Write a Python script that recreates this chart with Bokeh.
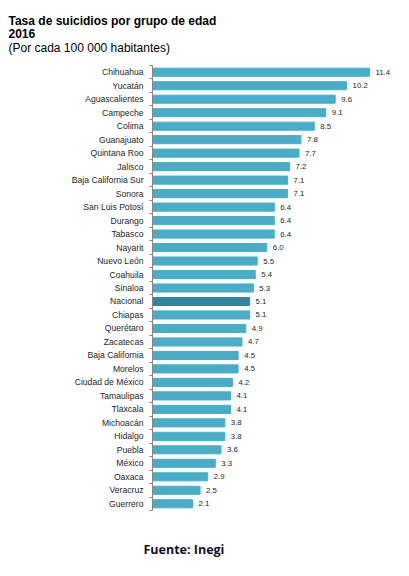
from bokeh.plotting import figure
from bokeh.models import ColumnDataSource, Range1d, FixedTicker, LabelSet, Label
from bokeh.core.properties import value
from bokeh.embed import file_html
from bokeh.resources import INLINE

estados = ["Chihuahua", "Yucatán", "Aguascalientes", "Campeche", "Colima", "Guanajuato",
           "Quintana Roo", "Jalisco", "Baja California Sur", "Sonora", "San Luis Potosí",
           "Durango", "Tabasco", "Nayarit", "Nuevo León", "Coahuila", "Sinaloa", "Nacional",
           "Chiapas", "Querétaro", "Zacatecas", "Baja California", "Morelos",
           "Ciudad de México", "Tamaulipas", "Tlaxcala", "Michoacán", "Hidalgo", "Puebla",
           "México", "Oaxaca", "Veracruz", "Guerrero"]
tasas = [11.4, 10.2, 9.6, 9.1, 8.5, 7.8, 7.7, 7.2, 7.1, 7.1, 6.4, 6.4, 6.4, 6.0, 5.5, 5.4,
         5.3, 5.1, 5.1, 4.9, 4.7, 4.5, 4.5, 4.2, 4.1, 4.1, 3.8, 3.8, 3.6, 3.3, 2.9, 2.5, 2.1]

titulo = "Tasa de suicidios por grupo de edad"
anio = "2016"
subtitulo = "(Por cada 100 000 habitantes)"
fuente = "Fuente: Inegi"

n = len(estados)
pos = list(range(n))
colores = ["#31849B" if e == "Nacional" else "#4BACC6" for e in estados]
etiquetas = [f"{v:.1f}" for v in tasas]

src = ColumnDataSource(dict(y=pos, x=tasas, c=colores, t=etiquetas))

# layout (pixels): axis at x=152, 19.03 px per unit; rows from y=65 to y=510
W, H = 409, 576
AX, PXU = 152, 19.03
TOP, BOT = 65, 510
row = (BOT - TOP) / n
x_range = Range1d(-AX / PXU, (W - AX) / PXU)
y_range = Range1d(n - 0.5 + (H - BOT) / row, -0.5 - TOP / row)

p = figure(width=W, height=H, output_backend="svg", toolbar_location=None,
           x_range=x_range, y_range=y_range, min_border=0,
           background_fill_color="white", border_fill_color="white")
p.outline_line_color = None
p.grid.visible = False
p.xaxis.visible = False

p.hbar(y="y", right="x", left=0, height=0.6, color="c", source=src)

ax = p.yaxis[0]
ax.fixed_location = 0
ax.bounds = (-0.5, n - 0.5)
ax.ticker = FixedTicker(ticks=pos, minor_ticks=[i - 0.5 for i in range(n + 1)])
ax.major_label_overrides = {i: e for i, e in enumerate(estados)}
ax.major_tick_out = 0
ax.major_tick_in = 0
ax.minor_tick_out = 3
ax.minor_tick_in = 0
ax.minor_tick_line_color = "#868686"
ax.axis_line_color = "#868686"
ax.major_label_text_font = "Liberation Sans"
ax.major_label_text_font_size = "8.6px"
ax.major_label_text_color = "#262626"
ax.major_label_standoff = 6

p.add_layout(LabelSet(x="x", y="y", text="t", source=src, x_offset=6,
                      text_baseline="middle", text_font=value("Liberation Sans"),
                      text_font_size=value("7.8px"), text_color=value("#262626")))


def lab(txt, x, y, size, bold, font="Liberation Sans", color="#000000"):
    p.add_layout(Label(x=x, y=H - y, x_units="screen", y_units="screen",
                       text=txt, text_font=font, text_font_size=size,
                       text_font_style="bold" if bold else "normal",
                       text_color=color, text_baseline="alphabetic"))


lab(titulo, 8, 20, "12px", True)
lab(anio, 8, 33, "12px", True)
lab(subtitulo, 8, 47, "12px", False)
lab(fuente, 143, 549, "12.5px", True, font="Open Sans", color="#10102a")

open("out.html", "w").write(file_html(p, INLINE))
